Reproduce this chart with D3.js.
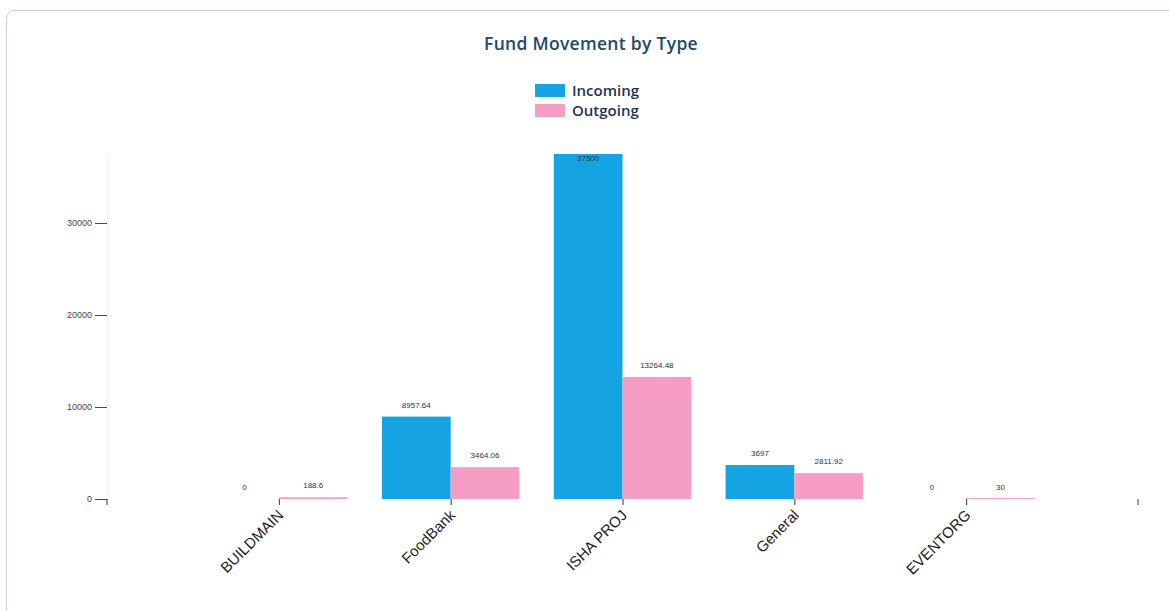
<meta charset="utf-8">
<script src="https://d3js.org/d3.v7.min.js"></script>
<style>
  body { margin: 0; background: #fff; }
  svg { display: block; }
</style>
<body>
<div id="chart"></div>
<script>
var categories = ["BUILDMAIN", "FoodBank", "ISHA PROJ", "General", "EVENTORG"]
var incoming = [0, 8957.64, 37500, 3697, 0]
var outgoing = [188.6, 3464.06, 13264.48, 2811.92, 30]
var seriesNames = ["Incoming", "Outgoing"]
var yTicks = [0, 10000, 20000, 30000]

var width = 1169, height = 611
var mLeft = 107, mRight = 1138, mTop = 154, mBottom = 499

var colors = ["#14a4e4", "#f59dc4"]

var svg = d3.select("#chart").append("svg")
  .attr("width", width)
  .attr("height", height)

// card border
svg.append("rect")
  .attr("x", 6.5).attr("y", 10.5)
  .attr("width", 1180).attr("height", 640)
  .attr("rx", 8)
  .attr("fill", "none")
  .attr("stroke", "#c9cdd9")

svg.append("text")
  .attr("x", 591).attr("y", 50)
  .attr("text-anchor", "middle")
  .attr("font-family", "Open Sans")
  .attr("font-weight", "600")
  .attr("font-size", "17.5px")
  .attr("letter-spacing", "0.3px")
  .attr("fill", "#1b4a6b")
  .text("Fund Movement by Type")

// legend
var legend = svg.append("g")
seriesNames.forEach(function(name, i) {
  legend.append("rect")
    .attr("x", 535).attr("y", 84 + i * 20)
    .attr("width", 30).attr("height", 13)
    .attr("fill", colors[i])
  legend.append("text")
    .attr("x", 572).attr("y", 96 + i * 20)
    .attr("font-family", "Open Sans")
    .attr("font-weight", "600")
    .attr("font-size", "15px")
    .attr("fill", "#1d3550")
    .text(name)
})

var x = d3.scalePoint()
  .domain(categories)
  .range([mLeft, mRight])
  .padding(1)

var barW = x.step() * 0.4

var y = d3.scaleLinear()
  .domain([0, 37500])
  .range([mBottom, mTop])

// y axis
var yAxis = svg.append("g")
  .attr("transform", "translate(" + mLeft + ",0)")
  .call(d3.axisLeft(y).tickValues(yTicks).tickFormat(d3.format("d")).tickSize(12).tickSizeOuter(0).tickPadding(3))
yAxis.select(".domain")
  .attr("stroke", "#d4d4d4")
  .attr("stroke-dasharray", "1,2")
yAxis.selectAll(".tick line").attr("stroke", "#4a4660")
yAxis.selectAll(".tick text")
  .attr("font-family", "Liberation Sans")
  .attr("font-size", "9px")
  .attr("fill", "#444")

// x axis
var xAxis = svg.append("g")
  .attr("transform", "translate(0," + mBottom + ")")
  .call(d3.axisBottom(x).tickSize(6).tickSizeOuter(6))
xAxis.select(".domain").attr("stroke", "none")
xAxis.selectAll(".tick line").attr("stroke", "#333")
xAxis.selectAll(".tick text")
  .attr("font-family", "Liberation Sans")
  .attr("font-size", "15px")
  .attr("fill", "#222")
  .attr("text-anchor", "end")
  .attr("transform", "translate(-5,7) rotate(-45)")
  .attr("dy", "0.35em")

// outer ticks at axis ends
;[mLeft, mRight].forEach(function(px) {
  svg.append("line")
    .attr("x1", px).attr("x2", px)
    .attr("y1", mBottom).attr("y2", mBottom + 6)
    .attr("stroke", "#333")
})

var rows = categories.map(function(c, i) {
  return { key: c, values: [incoming[i], outgoing[i]] }
})

var groups = svg.append("g").selectAll("g")
  .data(rows)
  .enter().append("g")
  .attr("transform", function(d) { return "translate(" + x(d.key) + ",0)" })

groups.selectAll("rect")
  .data(function(d) { return d.values })
  .enter().append("rect")
  .attr("x", function(d, i) { return i == 0 ? -barW : 0 })
  .attr("y", function(d) { return Math.min(y(d), mBottom - 1) })
  .attr("width", barW)
  .attr("height", function(d) { return d > 0 ? Math.max(mBottom - y(d), 1) : 0 })
  .attr("fill", function(d, i) { return colors[i] })

groups.selectAll("text.val")
  .data(function(d) { return d.values })
  .enter().append("text")
  .attr("class", "val")
  .attr("x", function(d, i) { return i == 0 ? -barW / 2 : barW / 2 })
  .attr("y", function(d) { return Math.max(y(d) - 9, 161) })
  .attr("text-anchor", "middle")
  .attr("font-family", "Liberation Sans")
  .attr("font-size", "8px")
  .attr("fill", "#333")
  .text(function(d) { return d })
</script>
</body>
